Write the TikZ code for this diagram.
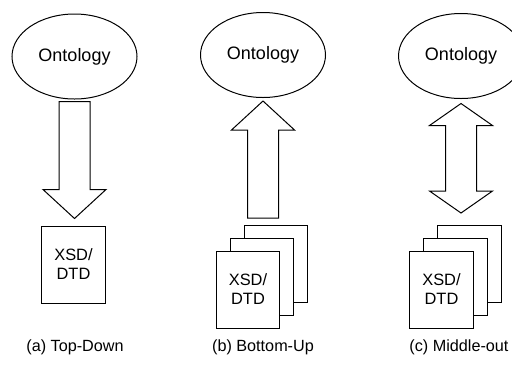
\documentclass[tikz,border=0pt]{standalone}
\usepackage{fontspec}
\setmainfont{Liberation Sans}
\usetikzlibrary{positioning, calc, shapes.geometric}
\newcommand{\setabaixo}[3]{%
  % #1 = topo da haste, #2 = ponta, #3 = comprimento da cabeca
  \draw[bloco] let \p1 = #1, \p2 = #2 in
    (\x1-7.75pt,\y1) -- (\x1+7.75pt,\y1) --
    (\x1+7.75pt,\y2+#3) -- (\x1+15.75pt,\y2+#3) --
    (\x1,\y2) --
    (\x1-15.75pt,\y2+#3) -- (\x1-7.75pt,\y2+#3) --
    cycle;
}
\newcommand{\setacima}[3]{%
  % #1 = base da haste, #2 = ponta, #3 = comprimento da cabeca
  \draw[bloco] let \p1 = #1, \p2 = #2 in
    (\x1-7.75pt,\y1) -- (\x1+7.75pt,\y1) --
    (\x1+7.75pt,\y2-#3) -- (\x1+15.75pt,\y2-#3) --
    (\x1,\y2) --
    (\x1-15.75pt,\y2-#3) -- (\x1-7.75pt,\y2-#3) --
    cycle;
}
\newcommand{\setadupla}[3]{%
  % #1 = ponta de cima, #2 = ponta de baixo, #3 = comprimento das cabecas
  \draw[bloco] let \p1 = #1, \p2 = #2 in
    (\x1,\y1) --
    (\x1+15.75pt,\y1-#3) -- (\x1+7.75pt,\y1-#3) --
    (\x1+7.75pt,\y2+#3) -- (\x1+15.75pt,\y2+#3) --
    (\x1,\y2) --
    (\x1-15.75pt,\y2+#3) -- (\x1-7.75pt,\y2+#3) --
    (\x1-7.75pt,\y1-#3) -- (\x1-15.75pt,\y1-#3) --
    cycle;
}
\begin{document}
\begin{tikzpicture}[x=0.5pt, y=-0.5pt, line width=0.5pt,
    onto/.style={ellipse, draw, inner sep=0pt, minimum width=62.5pt,
      minimum height=42.5pt, font=\fontsize{9}{10.8}\selectfont},
    doc/.style={draw, fill=white, inner sep=0pt, minimum width=31.75pt,
      minimum height=38.5pt, align=center,
      font=\fontsize{8.2}{9.5}\selectfont},
    bloco/.style={draw, line join=miter},
    legenda/.style={font=\fontsize{8.1}{9.7}\selectfont}]

    \useasboundingbox (0,0) rectangle (512,365);

    % ontologias
    \node[onto] (ont-a) at (74.5,56.5) {Ontology};
    \node[onto] (ont-b) at (263,55)    {Ontology};
    \node[onto] (ont-c) at (461,56)    {Ontology};

    % (a) um documento
    \node[doc] (xsd-a) at (73.5,264.5) {XSD/\\DTD};

    % (b) pilha de documentos
    \node[doc] (xsd-b3) at (276,264) {};
    \node[doc] (xsd-b2) at (262,276.5) {};
    \node[doc] (xsd-b1) at (248,289.5) {XSD/\\DTD};

    % (c) pilha de documentos
    \node[doc] (xsd-c3) at (469.5,264) {};
    \node[doc] (xsd-c2) at (455.5,276.5) {};
    \node[doc] (xsd-c1) at (441.5,289.5) {XSD/\\DTD};

    % setas
    \setabaixo{($(ont-a.south)+(0,2)$)}{($(ont-a.south |- xsd-a.north)+(0,-7)$)}{14.5pt}
    \setacima{($(ont-b.south |- xsd-b3.north)+(0,-7)$)}{($(ont-b.south)+(0,3)$)}{14.5pt}
    \setadupla{($(ont-c.south)+(0,4.5)$)}{($(ont-c.south |- xsd-c3.north)+(0,-12)$)}{11pt}

    % legendas
    \node[legenda] (leg-a) at (75,347)  {(a) Top-Down};
    \node[legenda] (leg-b) at (263,347) {(b) Bottom-Up};
    \node[legenda] (leg-c) at (459,347) {(c) Middle-out};

\end{tikzpicture}
\end{document}
